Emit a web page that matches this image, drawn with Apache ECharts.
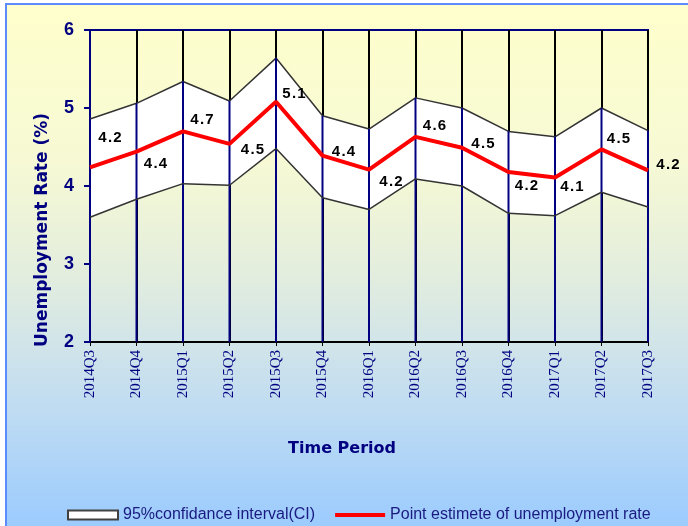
<!DOCTYPE html>
<html>
<head>
<meta charset="utf-8">
<script src="https://cdn.jsdelivr.net/npm/echarts@6/dist/echarts.min.js"></script>
<style>html,body{margin:0;padding:0;background:#fff;}#c{width:688px;height:526px;}</style>
</head>
<body>
<div id="c"></div>
<script>
const categories = ['2014Q3','2014Q4','2015Q1','2015Q2','2015Q3','2015Q4','2016Q1','2016Q2','2016Q3','2016Q4','2017Q1','2017Q2','2017Q3'];
const upperCI = [4.86, 5.06, 5.34, 5.09, 5.64, 4.90, 4.73, 5.13, 5.00, 4.70, 4.63, 5.00, 4.71];
const pointEstimate = [4.24, 4.44, 4.70, 4.54, 5.08, 4.39, 4.21, 4.63, 4.49, 4.18, 4.11, 4.47, 4.20];
const lowerCI = [3.60, 3.83, 4.03, 4.01, 4.48, 3.85, 3.70, 4.09, 4.00, 3.65, 3.62, 3.92, 3.73];
const yMin = 2, yMax = 6, yStep = 1;
const ciName = '95%confidance interval(CI)';
const pointName = 'Point estimete of unemployment rate';

// label placement (style only)
const labelOffsets = [[20,-29],[19,12],[19,-12],[23,6],[18,-8],[21,-4],[22,12],[19,-11],[21,-4],[18,14],[17,9],[17,-10],[20,-6]];

const chart = echarts.init(document.getElementById('c'), null, {renderer: 'canvas'});
const navy = '#000080';

const option = {
  animation: false,
  graphic: [
    {
      type: 'rect', z: -10, silent: true,
      shape: {x: 6, y: 4, width: 700, height: 530},
      style: {
        fill: new echarts.graphic.LinearGradient(0, 0, 0, 1, [
          {offset: 0, color: '#FFFFCC'},
          {offset: 0.3, color: '#F6F9D4'},
          {offset: 0.5, color: '#E4EEDD'},
          {offset: 0.72, color: '#C6DFEF'},
          {offset: 1, color: '#99CAFF'}
        ]),
        stroke: '#5B8CFF', lineWidth: 2
      }
    },
    {
      type: 'text', silent: true,
      x: 43, y: 230, rotation: Math.PI / 2,
      style: {
        text: 'Unemployment Rate (%)', fill: navy,
        font: 'bold 17px "DejaVu Sans"', align: 'center', verticalAlign: 'middle'
      }
    },
    {
      type: 'text', silent: true,
      x: 342, y: 449,
      style: {
        text: 'Time Period', fill: navy,
        font: 'bold 16px "DejaVu Sans"', align: 'center', verticalAlign: 'middle'
      }
    }
  ],
  legend: {
    left: 62, top: 502,
    itemWidth: 50, itemHeight: 9, itemGap: 20,
    textStyle: {color: '#1a1a80', fontSize: 16, fontFamily: 'Arial'},
    data: [
      {name: ciName, icon: 'rect', itemStyle: {color: '#ffffff', borderColor: '#404040', borderWidth: 2}},
      {name: pointName, icon: 'path://M0,0H52V4H0Z', itemStyle: {color: '#ff0000'}}
    ]
  },
  grid: {
    left: 90, top: 30, right: 40, bottom: 184,
    show: true, backgroundColor: 'transparent', borderColor: navy, borderWidth: 2
  },
  xAxis: {
    type: 'category', data: categories, boundaryGap: false,
    axisLine: {lineStyle: {color: '#000', width: 2}},
    axisTick: {show: true, length: 4, lineStyle: {color: '#000', width: 1}},
    axisLabel: {rotate: 90, margin: 8, color: navy, fontSize: 15, fontFamily: 'Liberation Serif'},
    splitLine: {show: true, lineStyle: {color: '#000', width: 2}}
  },
  yAxis: {
    type: 'value', min: yMin, max: yMax, interval: yStep,
    axisLine: {show: true, lineStyle: {color: navy, width: 2}},
    axisTick: {show: true, length: 6, lineStyle: {color: navy, width: 2}},
    axisLabel: {margin: 16, color: navy, fontSize: 18, fontWeight: 'bold', fontFamily: 'Arial'},
    splitLine: {show: false}
  },
  series: [
    {
      name: 'lowerCI', type: 'line', stack: 'ci', data: lowerCI,
      symbol: 'none', z: 4,
      lineStyle: {color: '#333333', width: 1.5}
    },
    {
      name: ciName, type: 'line', stack: 'ci',
      data: upperCI.map((u, i) => u - lowerCI[i]),
      symbol: 'none', z: 2,
      lineStyle: {color: '#333333', width: 1.5},
      areaStyle: {color: '#ffffff', opacity: 1}
    },
    {
      name: 'drop', type: 'custom', z: 3, silent: true,
      data: upperCI.map((u, i) => [i, u]),
      renderItem: function (params, api) {
        const i = api.value(0);
        const top = api.coord([i, api.value(1)]);
        const bot = api.coord([i, yMin]);
        return {
          type: 'line',
          shape: {x1: top[0], y1: top[1], x2: bot[0], y2: bot[1]},
          style: {stroke: navy, lineWidth: 2}
        };
      }
    },
    {
      name: pointName, type: 'line', z: 5,
      data: pointEstimate.map((v, i) => ({value: v, label: {offset: labelOffsets[i]}})),
      symbol: 'circle', symbolSize: 1,
      itemStyle: {color: 'rgba(0,0,0,0)'},
      lineStyle: {color: '#ff0000', width: 4},
      label: {
        show: true, position: 'inside',
        color: '#000', fontSize: 15, fontWeight: 'bold', fontFamily: 'Arial',
        formatter: p => p.value.toFixed(1).split('').join('\u200A')
      }
    }
  ]
};
chart.setOption(option);
</script>
</body>
</html>
